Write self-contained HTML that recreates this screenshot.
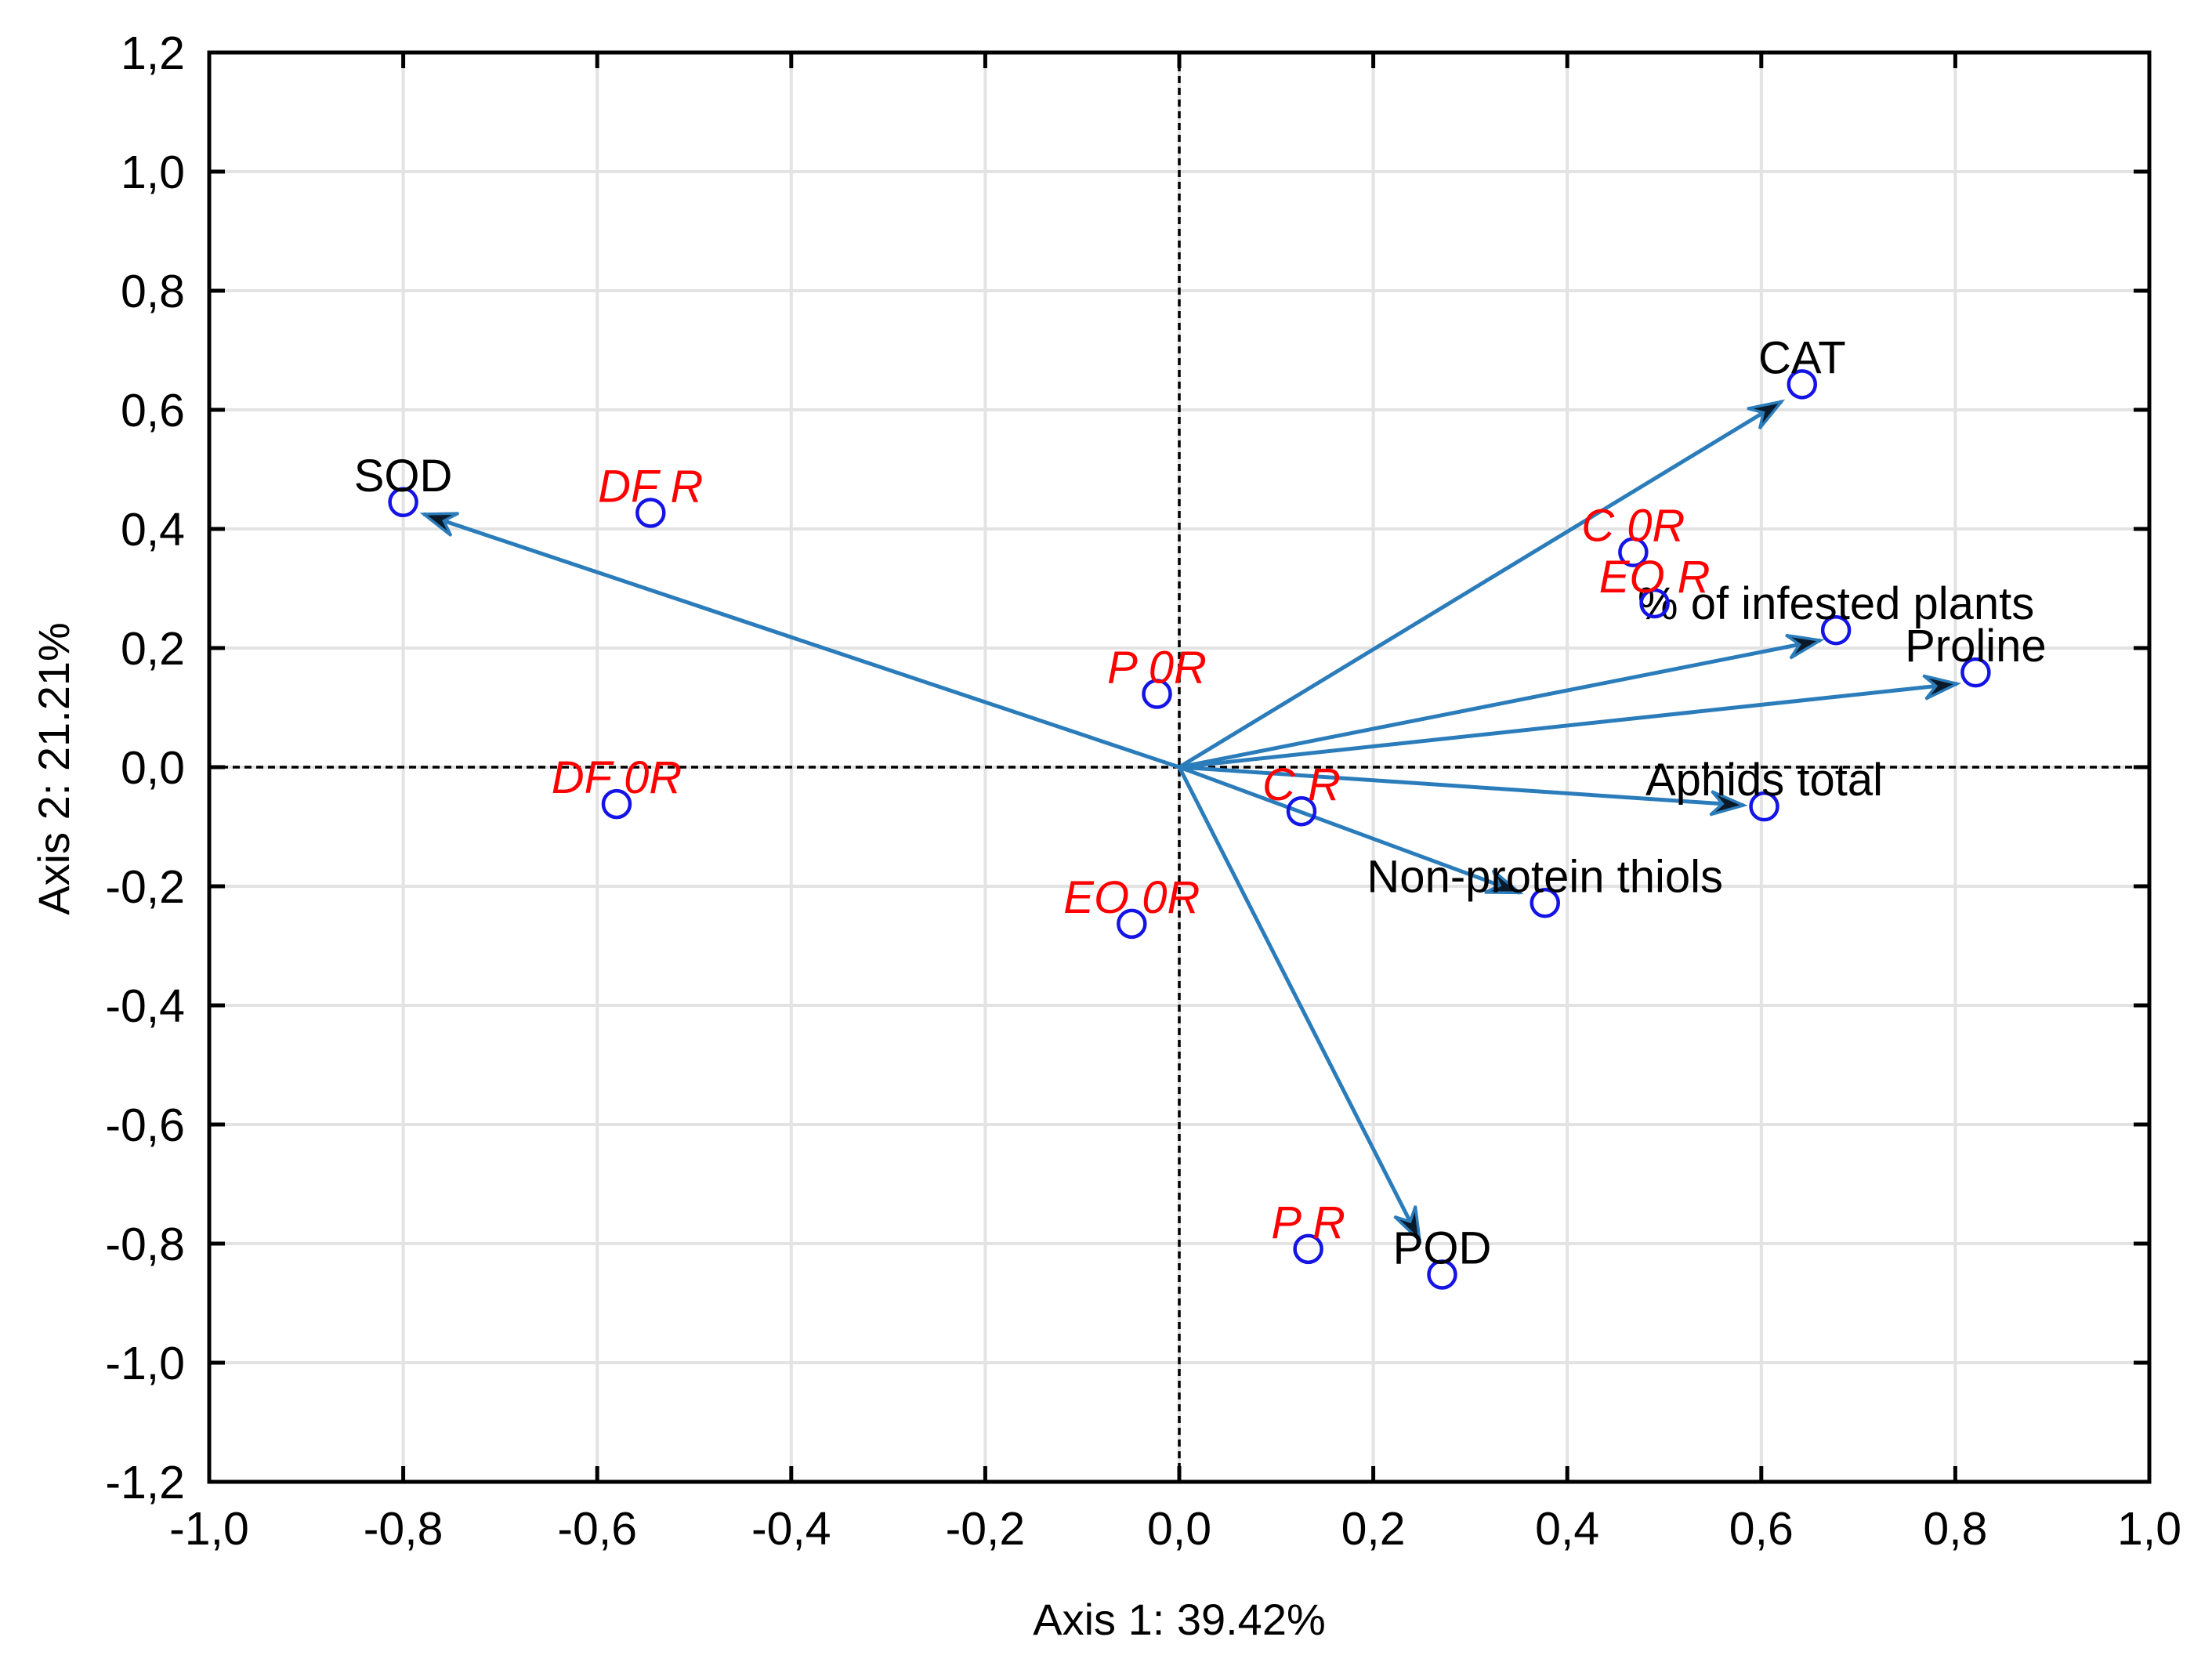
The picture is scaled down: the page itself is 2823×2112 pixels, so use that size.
<!DOCTYPE html>
<html><head><meta charset="utf-8"><style>
html,body{margin:0;padding:0;background:#fff;}
svg{display:block;font-family:"Liberation Sans",Arial,sans-serif;}
</style></head><body>
<svg id="chart" width="2823" height="2112" viewBox="0 0 2823 2112" xmlns="http://www.w3.org/2000/svg">
<g id="grid"></g>
<g id="zero"></g>
<g id="arrows"></g>
<g id="points"></g>
<g id="frame"></g>
<g id="ticks"></g>
<text x="1505" y="2086" font-size="56" text-anchor="middle">Axis 1: 39.42%</text>
<text x="0" y="0" font-size="56" text-anchor="middle" transform="translate(88,981) rotate(-90)">Axis 2: 21.21%</text>
</svg>
<script>
const xTicks=[-1.0,-0.8,-0.6,-0.4,-0.2,0.0,0.2,0.4,0.6,0.8,1.0];
const yTicks=[-1.2,-1.0,-0.8,-0.6,-0.4,-0.2,0.0,0.2,0.4,0.6,0.8,1.0,1.2];
const varNames=["SOD","CAT","% of infested plants","Proline","Aphids total","Non-protein thiols","POD"];
const varX=[-0.80,0.642,0.677,0.821,0.603,0.377,0.271];
const varY=[0.445,0.643,0.230,0.159,-0.066,-0.228,-0.852];
const arrowX=[-0.779,0.621,0.661,0.802,0.582,0.351,0.248];
const arrowY=[0.425,0.614,0.213,0.140,-0.064,-0.211,-0.795];
const caseNames=["DF R","P 0R","DF 0R","EO 0R","C R","P R","C 0R","EO R"];
const caseX=[-0.545,-0.023,-0.58,-0.049,0.126,0.133,0.468,0.49];
const caseY=[0.427,0.123,-0.062,-0.263,-0.074,-0.809,0.361,0.275];

const L=267,R=2743,T=67,B=1891;
const X0=-1,X1=1,Y0=-1.2,Y1=1.2;
const sx=v=>L+(v-X0)/(X1-X0)*(R-L);
const sy=v=>B-(v-Y0)/(Y1-Y0)*(B-T);
const NS="http://www.w3.org/2000/svg";
function mk(tag,parent,attrs){const e=document.createElementNS(NS,tag);for(const k in attrs)e.setAttribute(k,attrs[k]);parent.appendChild(e);return e;}
const fmt=v=>v.toFixed(1).replace('.',',').replace('-0,0','0,0');
const grid=document.getElementById('grid'),ticks=document.getElementById('ticks'),frame=document.getElementById('frame');
xTicks.forEach(v=>{
  const x=sx(v);
  if(v>X0&&v<X1){const g=mk('line',grid,{x1:x,x2:x,y1:T,y2:B,stroke:'#e3e3e3','stroke-width':4});
  
  }
  const t1=mk('line',frame,{x1:x,x2:x,y1:B,y2:B-20,stroke:'#000','stroke-width':5});
  
  
  const t2=mk('line',frame,{x1:x,x2:x,y1:T,y2:T+20,stroke:'#000','stroke-width':5});
  
  
  const tx=mk('text',ticks,{x:x,y:1971,'font-size':59,'text-anchor':'middle'});
  tx.textContent=fmt(v);
  
  
});
yTicks.forEach(v=>{
  const y=sy(v);
  if(v>Y0+1e-9&&v<Y1-1e-9){const g=mk('line',grid,{x1:L,x2:R,y1:y,y2:y,stroke:'#e3e3e3','stroke-width':4});
  
  }
  const t1=mk('line',frame,{x1:L,x2:L+20,y1:y,y2:y,stroke:'#000','stroke-width':5});
  
  
  const t2=mk('line',frame,{x1:R,x2:R-20,y1:y,y2:y,stroke:'#000','stroke-width':5});
  
  
  const tx=mk('text',ticks,{x:236,y:y+21,'font-size':59,'text-anchor':'end'});
  tx.textContent=fmt(v);
  
  
});
const fr=mk('rect',frame,{x:L,y:T,width:R-L,height:B-T,fill:'none',stroke:'#000','stroke-width':5});


const zero=document.getElementById('zero');
const zx=mk('line',zero,{x1:L,x2:R,y1:sy(0),y2:sy(0),stroke:'#000','stroke-width':3.5,'stroke-dasharray':'9,6'});


const zy=mk('line',zero,{x1:sx(0),x2:sx(0),y1:T,y2:B,stroke:'#000','stroke-width':3.5,'stroke-dasharray':'9,6'});


const arrows=document.getElementById('arrows');
const ox=sx(0),oy=sy(0);
arrowX.forEach((ax,i)=>{
  const tx=sx(ax),ty=sy(arrowY[i]);
  const g=mk('g',arrows,{});
  
  
  mk('line',g,{x1:ox,y1:oy,x2:tx,y2:ty,stroke:'#2b7cba','stroke-width':5});
  const a=Math.atan2(ty-oy,tx-ox),len=42,w=15;
  const bx=tx-len*Math.cos(a),by=ty-len*Math.sin(a);
  const nx=-Math.sin(a)*w,ny=Math.cos(a)*w;
  const mx=tx-len*0.65*Math.cos(a),my=ty-len*0.65*Math.sin(a);
  mk('polygon',g,{points:`${tx},${ty} ${bx+nx},${by+ny} ${mx},${my} ${bx-nx},${by-ny}`,fill:'#0a1a2a',stroke:'#2b7cba','stroke-width':3.5,'stroke-linejoin':'miter'});
});
const points=document.getElementById('points');
function addPoint(name,x,y,isCase){
  const px=sx(x),py=sy(y);
  const c=mk('circle',points,{cx:px,cy:py,r:17,fill:'none',stroke:'#1414e6','stroke-width':4.5});
  
  
  const t=mk('text',points,{x:px,y:py-14,'font-size':58,'text-anchor':'middle',fill:isCase?'#ff0000':'#000','font-style':isCase?'italic':'normal'});
  t.textContent=name;
  
  
}
varNames.forEach((n,i)=>addPoint(n,varX[i],varY[i],false));
caseNames.forEach((n,i)=>addPoint(n,caseX[i],caseY[i],true));
</script>
</body></html>
